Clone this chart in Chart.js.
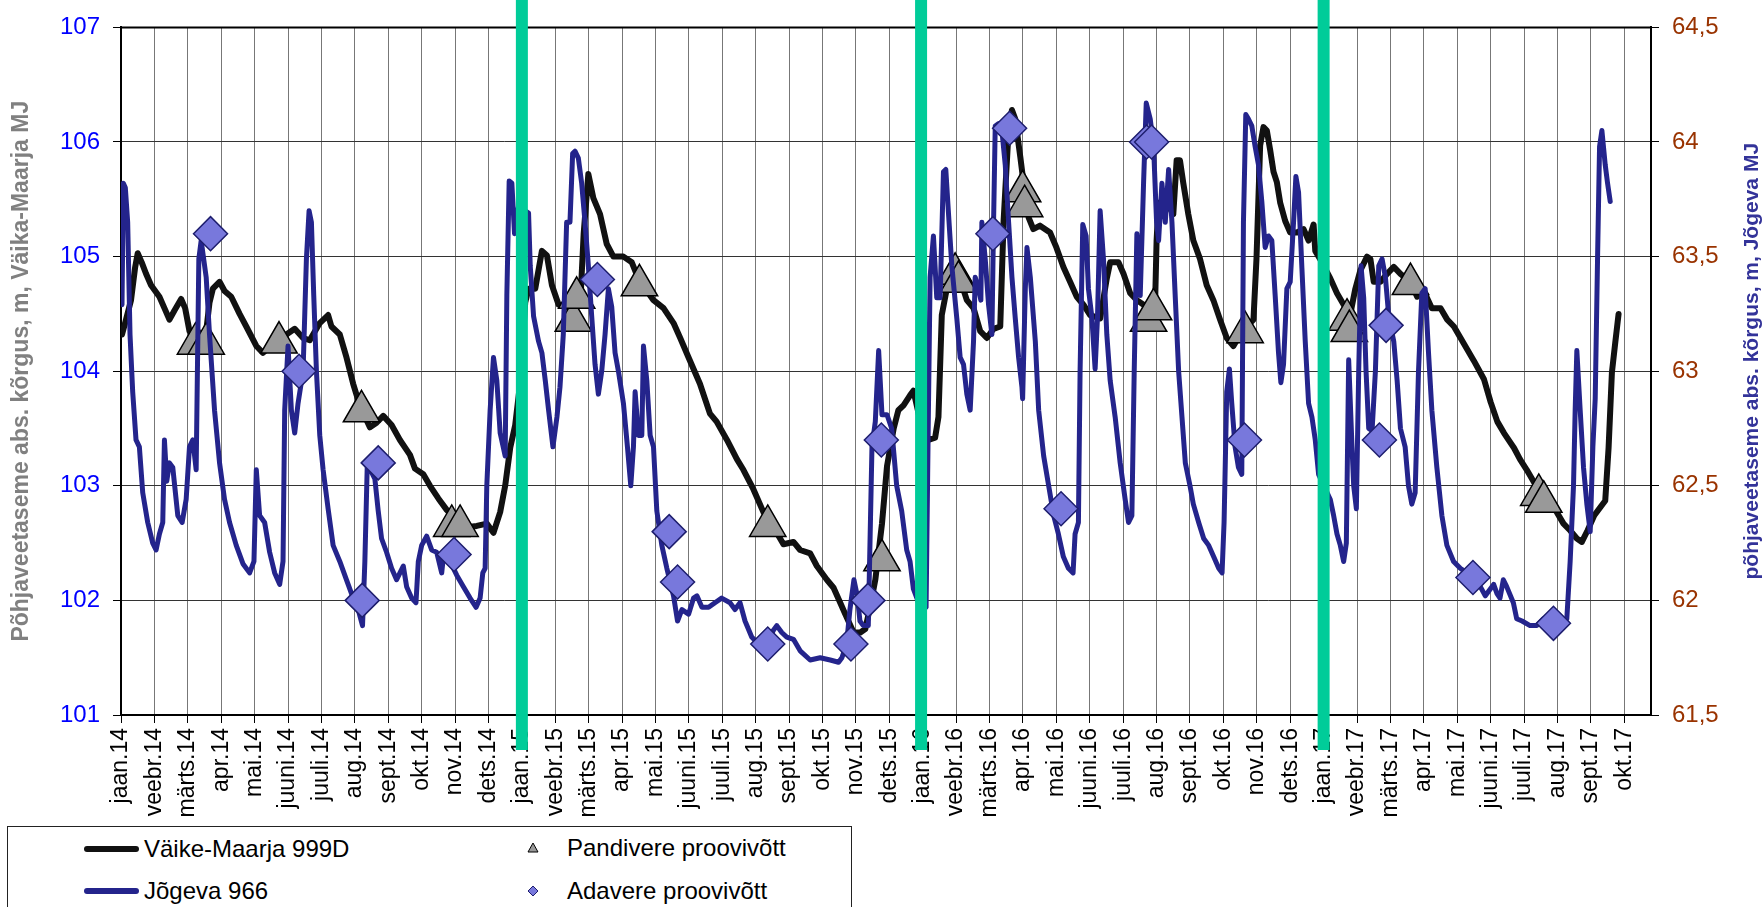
<!DOCTYPE html>
<html>
<head>
<meta charset="utf-8">
<script src="https://cdn.jsdelivr.net/npm/chart.js@4.4.1/dist/chart.umd.min.js"></script>
<style>
  body { margin: 0; background: #fff; overflow: hidden; }
  #wrap { position: relative; width: 1764px; height: 907px; }
  #legend {
    position: absolute; left: 7px; top: 826px; width: 845px; height: 120px;
    border: 1px solid #222; box-sizing: border-box; background: #fff;
    font-family: "Liberation Sans", Arial, sans-serif; font-size: 24px; color: #000;
  }
  .item { position: absolute; height: 28px; line-height: 28px; white-space: nowrap; }
  .sample { position: absolute; width: 55px; height: 6px; border-radius: 3px; }
</style>
</head>
<body>
<div id="wrap">
  <canvas id="chart" width="1764" height="907"></canvas>
  <div id="legend"></div>
</div>
<script>
// kuud x-teljel (0 = jaan.14)
const monthLabels = [
  'jaan.14','veebr.14','märts.14','apr.14','mai.14','juuni.14','juuli.14','aug.14','sept.14','okt.14','nov.14','dets.14',
  'jaan.15','veebr.15','märts.15','apr.15','mai.15','juuni.15','juuli.15','aug.15','sept.15','okt.15','nov.15','dets.15',
  'jaan.16','veebr.16','märts.16','apr.16','mai.16','juuni.16','juuli.16','aug.16','sept.16','okt.16','nov.16','dets.16',
  'jaan.17','veebr.17','märts.17','apr.17','mai.17','juuni.17','juuli.17','aug.17','sept.17','okt.17'
];
const yearMarks = [12, 23.95, 36]; // aastavahetused (rohelised jooned)

const leftTitle = 'Põhjaveetaseme abs. kõrgus, m, Väika-Maarja MJ';
const rightTitle = 'põhjaveetaseme abs. kõrgus, m, Jõgeva MJ';

// Väike-Maarja 999D, [kuu, m] vasak telg
const vaikeMaarja = [
  [0.03,104.32],[0.15,104.45],[0.3,104.62],[0.42,104.9],[0.5,105.03],[0.62,104.95],[0.75,104.85],[0.9,104.75],
  [1.15,104.65],[1.3,104.55],[1.45,104.45],[1.6,104.53],[1.8,104.63],[1.92,104.55],[2.05,104.35],[2.3,104.25],
  [2.55,104.35],[2.65,104.6],[2.75,104.72],[2.95,104.78],[3.1,104.7],[3.3,104.65],[3.55,104.5],[3.75,104.39],
  [4.05,104.22],[4.25,104.16],[4.55,104.24],[4.95,104.32],[5.2,104.37],[5.45,104.29],[5.65,104.27],[5.95,104.42],
  [6.2,104.49],[6.3,104.39],[6.55,104.32],[6.75,104.12],[6.95,103.89],[7.15,103.7],[7.45,103.51],[7.65,103.55],
  [7.85,103.61],[8.1,103.53],[8.35,103.4],[8.65,103.27],[8.8,103.15],[9.05,103.1],[9.25,103.0],[9.5,102.89],
  [9.75,102.79],[10.05,102.7],[10.4,102.64],[10.65,102.65],[10.95,102.67],[11.15,102.59],[11.35,102.77],[11.5,103.0],
  [11.65,103.33],[11.8,103.53],[11.95,103.9],[12.1,104.6],[12.2,104.72],[12.4,104.72],[12.6,105.05],[12.75,105.01],
  [12.9,104.75],[13.1,104.58],[13.45,104.55],[13.75,104.6],[13.85,105.2],[13.99,105.72],[14.14,105.51],[14.34,105.37],
  [14.54,105.11],[14.74,105.0],[15.04,105.0],[15.29,104.95],[15.5,104.8],[15.94,104.62],[16.24,104.55],[16.54,104.42],
  [16.74,104.29],[16.99,104.12],[17.33,103.89],[17.63,103.63],[17.83,103.56],[18.14,103.4],[18.44,103.23],[18.63,103.14],
  [18.93,102.97],[19.23,102.77],[19.53,102.64],[19.83,102.49],[20.13,102.51],[20.33,102.44],[20.63,102.41],[20.83,102.3],
  [21.13,102.18],[21.33,102.11],[21.53,101.98],[21.68,101.88],[21.93,101.72],[22.13,101.72],[22.28,101.75],[22.43,101.95],
  [22.58,102.18],[22.78,102.67],[22.93,103.17],[23.13,103.5],[23.27,103.66],[23.42,103.7],[23.62,103.79],[23.72,103.83],
  [23.9,103.6],[24.05,103.4],[24.17,103.4],[24.37,103.42],[24.47,103.6],[24.57,104.49],[24.72,104.72],[24.92,104.78],
  [25.12,104.8],[25.32,104.62],[25.52,104.55],[25.72,104.35],[25.92,104.29],[26.12,104.37],[26.32,104.39],[26.42,105.31],
  [26.57,106.1],[26.67,106.28],[26.77,106.2],[26.92,105.87],[27.02,105.64],[27.17,105.34],[27.31,105.24],[27.51,105.27],
  [27.81,105.21],[28.0,105.08],[28.21,104.91],[28.41,104.78],[28.61,104.65],[28.81,104.58],[29.01,104.49],[29.31,104.46],
  [29.51,104.81],[29.61,104.95],[29.86,104.95],[30.01,104.85],[30.21,104.68],[30.41,104.62],[30.61,104.58],[30.81,104.55],
  [30.96,104.65],[31.0,105.14],[31.06,105.47],[31.21,105.37],[31.31,105.47],[31.5,105.37],[31.6,105.84],[31.7,105.84],
  [31.8,105.64],[31.95,105.37],[32.1,105.14],[32.3,104.98],[32.5,104.75],[32.7,104.62],[32.9,104.45],[33.1,104.29],
  [33.3,104.22],[33.5,104.32],[33.7,104.39],[33.9,104.45],[33.99,104.98],[34.1,105.97],[34.2,106.13],[34.3,106.1],
  [34.4,105.93],[34.5,105.74],[34.6,105.65],[34.7,105.47],[34.85,105.31],[35.0,105.21],[35.2,105.21],[35.4,105.24],
  [35.55,105.14],[35.7,105.28],[35.75,105.05],[35.95,104.95],[36.2,104.81],[36.4,104.68],[36.6,104.58],[36.8,104.5],
  [36.95,104.72],[37.1,104.88],[37.3,105.0],[37.4,104.98],[37.5,104.78],[37.7,104.78],[37.9,104.85],[38.1,104.91],
  [38.3,104.85],[38.6,104.78],[38.8,104.65],[39.0,104.7],[39.24,104.55],[39.5,104.55],[39.7,104.45],[39.9,104.39],
  [40.1,104.29],[40.3,104.19],[40.5,104.09],[40.8,103.93],[41.0,103.73],[41.2,103.56],[41.4,103.46],[41.7,103.33],
  [41.88,103.23],[42.08,103.14],[42.28,103.04],[42.6,102.9],[42.98,102.77],[43.18,102.67],[43.38,102.61],[43.58,102.54],
  [43.73,102.51],[43.9,102.61],[44.1,102.74],[44.3,102.82],[44.43,102.87],[44.53,103.33],[44.63,103.99],[44.73,104.25],
  [44.83,104.5]
];

// Jõgeva 966, [kuu, m] parem telg
const jogeva = [
  [0.03,63.29],[0.07,63.82],[0.13,63.8],[0.2,63.65],[0.27,63.16],[0.35,62.91],[0.45,62.7],[0.55,62.67],
  [0.65,62.47],[0.8,62.34],[0.95,62.25],[1.05,62.22],[1.15,62.29],[1.25,62.34],[1.3,62.7],[1.37,62.52],
  [1.45,62.6],[1.55,62.58],[1.7,62.37],[1.83,62.34],[1.95,62.44],[2.05,62.67],[2.15,62.7],[2.25,62.57],
  [2.33,63.49],[2.4,63.57],[2.55,63.41],[2.65,63.16],[2.8,62.83],[2.95,62.6],[3.1,62.44],[3.25,62.34],
  [3.45,62.24],[3.65,62.16],[3.85,62.12],[3.98,62.17],[4.05,62.57],[4.15,62.37],[4.3,62.34],[4.45,62.21],
  [4.6,62.12],[4.75,62.07],[4.85,62.17],[4.9,62.83],[5.0,63.11],[5.1,62.83],[5.2,62.73],[5.3,62.86],
  [5.45,63.0],[5.55,63.49],[5.63,63.7],[5.7,63.65],[5.77,63.33],[5.85,63.0],[5.95,62.72],[6.05,62.57],
  [6.2,62.4],[6.35,62.24],[6.55,62.17],[6.75,62.09],[6.95,62.01],[7.1,61.96],[7.23,61.89],[7.3,62.17],
  [7.37,62.58],[7.5,62.56],[7.6,62.53],[7.7,62.39],[7.8,62.27],[7.95,62.21],[8.1,62.14],[8.25,62.09],
  [8.35,62.12],[8.45,62.15],[8.55,62.06],[8.7,62.01],[8.83,61.99],[8.9,62.17],[9.0,62.24],[9.15,62.28],
  [9.3,62.22],[9.45,62.21],[9.6,62.12],[9.65,62.19],[9.85,62.17],[10.05,62.11],[10.25,62.06],[10.45,62.01],
  [10.63,61.97],[10.75,62.01],[10.83,62.12],[10.9,62.14],[10.95,62.5],[11.05,62.83],[11.15,63.06],[11.25,62.96],
  [11.35,62.73],[11.5,62.63],[11.55,63.33],[11.62,63.83],[11.7,63.82],[11.78,63.6],[11.9,63.72],[12.1,63.7],
  [12.2,63.69],[12.25,63.46],[12.35,63.24],[12.5,63.13],[12.6,63.08],[12.7,62.96],[12.8,62.83],[12.93,62.67],
  [13.05,62.8],[13.14,62.93],[13.24,63.16],[13.34,63.65],[13.44,63.65],[13.52,63.95],[13.59,63.96],[13.69,63.93],
  [13.79,63.82],[13.89,63.65],[13.99,63.46],[14.09,63.24],[14.19,63.03],[14.29,62.9],[14.39,63.0],[14.49,63.16],
  [14.59,63.36],[14.69,63.28],[14.79,63.08],[14.89,63.0],[15.04,62.86],[15.16,62.67],[15.26,62.5],[15.34,62.67],
  [15.39,62.91],[15.49,62.72],[15.59,62.72],[15.64,63.11],[15.74,62.96],[15.84,62.72],[15.94,62.67],[16.04,62.39],
  [16.19,62.24],[16.34,62.14],[16.54,62.02],[16.66,61.91],[16.79,61.96],[16.99,61.94],[17.14,62.01],[17.24,62.02],
  [17.39,61.97],[17.59,61.97],[17.78,61.99],[17.98,62.01],[18.23,61.99],[18.38,61.96],[18.53,61.99],[18.68,61.91],
  [18.88,61.84],[19.08,61.81],[19.33,61.81],[19.53,61.87],[19.63,61.89],[19.78,61.86],[19.93,61.84],[20.13,61.83],
  [20.33,61.78],[20.63,61.74],[20.93,61.75],[21.23,61.74],[21.48,61.73],[21.58,61.75],[21.72,61.81],[21.82,61.96],
  [21.94,62.09],[22.04,62.02],[22.12,61.91],[22.22,61.89],[22.37,61.89],[22.48,62.67],[22.58,62.78],[22.68,63.09],
  [22.78,62.81],[22.93,62.81],[23.07,62.75],[23.22,62.5],[23.37,62.39],[23.52,62.22],[23.62,62.17],[23.72,62.05],
  [23.9,61.98],[24.1,61.97],[24.17,62.83],[24.22,63.41],[24.32,63.59],[24.42,63.32],[24.52,63.32],[24.62,63.87],
  [24.69,63.88],[24.77,63.69],[24.87,63.46],[25.02,63.23],[25.12,63.06],[25.22,63.03],[25.32,62.9],[25.42,62.83],
  [25.52,63.13],[25.57,63.41],[25.67,63.36],[25.74,63.31],[25.77,63.65],[25.87,63.49],[25.97,63.29],[26.07,63.16],
  [26.12,63.65],[26.17,64.07],[26.27,64.08],[26.37,64.05],[26.47,63.9],[26.57,63.65],[26.67,63.41],[26.77,63.23],
  [26.87,63.06],[26.97,62.93],[26.99,62.88],[27.07,63.36],[27.12,63.54],[27.22,63.41],[27.37,63.13],[27.47,62.83],
  [27.62,62.63],[27.77,62.5],[27.92,62.37],[28.06,62.29],[28.21,62.19],[28.36,62.14],[28.5,62.12],[28.56,62.29],
  [28.66,62.34],[28.71,63.0],[28.79,63.64],[28.89,63.59],[28.96,63.36],[29.06,63.24],[29.16,63.01],[29.23,63.23],
  [29.31,63.7],[29.41,63.49],[29.51,63.16],[29.61,62.96],[29.76,62.8],[29.91,62.6],[30.06,62.44],[30.16,62.34],
  [30.26,62.37],[30.33,63.0],[30.41,63.6],[30.51,63.33],[30.61,63.82],[30.69,64.17],[30.81,64.1],[30.91,63.98],
  [31.0,63.65],[31.06,63.57],[31.16,63.82],[31.26,63.65],[31.36,63.88],[31.46,63.65],[31.56,63.32],[31.66,63.0],
  [31.76,62.8],[31.86,62.6],[32.0,62.5],[32.1,62.42],[32.26,62.34],[32.41,62.27],[32.56,62.24],[32.71,62.19],
  [32.86,62.14],[32.96,62.12],[33.02,62.34],[33.1,62.91],[33.18,63.01],[33.25,62.86],[33.35,62.67],[33.45,62.58],
  [33.55,62.55],[33.6,63.65],[33.67,64.12],[33.75,64.1],[33.85,64.07],[33.95,63.98],[34.05,63.9],[34.15,63.74],
  [34.25,63.54],[34.35,63.59],[34.45,63.57],[34.55,63.33],[34.65,63.08],[34.72,62.95],[34.8,63.03],[34.9,63.36],
  [35.0,63.39],[35.1,63.65],[35.17,63.85],[35.25,63.78],[35.35,63.45],[35.45,63.13],[35.55,62.86],[35.65,62.8],
  [35.75,62.7],[35.85,62.55],[36.2,62.44],[36.3,62.37],[36.4,62.29],[36.5,62.24],[36.6,62.17],[36.68,62.25],
  [36.75,63.05],[36.85,62.67],[36.9,62.5],[36.98,62.4],[37.05,63.0],[37.12,63.46],[37.2,63.32],[37.27,63.0],
  [37.35,62.75],[37.45,62.74],[37.55,63.0],[37.65,63.46],[37.75,63.49],[37.85,63.41],[37.95,63.24],[38.1,63.13],
  [38.2,62.96],[38.3,62.75],[38.44,62.67],[38.54,62.5],[38.64,62.42],[38.74,62.47],[38.84,63.0],[38.94,63.34],
  [39.04,63.36],[39.14,63.08],[39.24,62.83],[39.39,62.58],[39.54,62.37],[39.69,62.24],[39.89,62.17],[40.09,62.14],
  [40.29,62.12],[40.49,62.1],[40.69,62.06],[40.84,62.02],[40.99,62.05],[41.09,62.07],[41.19,62.03],[41.28,62.01],
  [41.38,62.09],[41.48,62.06],[41.68,61.99],[41.78,61.92],[41.94,61.91],[42.18,61.89],[42.38,61.89],[42.58,61.92],
  [42.88,61.91],[43.18,61.89],[43.28,61.92],[43.38,62.17],[43.48,62.5],[43.53,62.83],[43.58,63.09],[43.68,62.83],
  [43.78,62.58],[43.88,62.42],[43.98,62.3],[44.06,62.67],[44.13,62.88],[44.2,63.49],[44.26,63.98],[44.33,64.05],
  [44.43,63.9],[44.5,63.82],[44.58,63.74]
];

// Pandivere proovivõtt, [kuu, m] vasak telg
const pandivere = [
  [2.23,104.24],[2.55,104.24],[4.73,104.25],[7.2,103.65],[9.9,102.65],[10.15,102.65],[13.54,104.44],[13.64,104.64],
  [15.52,104.75],[19.36,102.65],[22.78,102.35],[24.97,104.85],[25.07,104.78],[26.99,105.57],[27.05,105.44],
  [30.76,104.44],[30.91,104.54],[33.65,104.34],[36.7,104.45],[36.77,104.35],[38.6,104.76],[42.44,102.92],[42.59,102.86]
];

// Adavere proovivõtt, [kuu, m] parem telg
const adavere = [
  [2.68,63.6],[5.33,63.0],[7.22,62.0],[7.7,62.6],[9.97,62.2],[14.26,63.4],[16.41,62.3],[16.66,62.08],
  [19.36,61.81],[21.85,61.81],[22.36,62.0],[22.76,62.7],[26.1,63.6],[26.6,64.06],[28.14,62.4],[30.7,64.0],
  [30.85,64.0],[33.63,62.7],[37.67,62.7],[37.87,63.2],[40.47,62.1],[42.88,61.9]
];

const FONT = 'Liberation Sans';
const toXY = arr => arr.map(p => ({ x: p[0], y: p[1] }));

const extras = {
  id: 'extras',
  afterDraw(chart) {
    const { ctx, chartArea, scales } = chart;
    ctx.save();
    // ülemine raam
    ctx.strokeStyle = '#000';
    ctx.lineWidth = 2;
    ctx.beginPath();
    ctx.moveTo(chartArea.left, chartArea.top);
    ctx.lineTo(chartArea.right, chartArea.top);
    ctx.stroke();
    // aastavahetused
    ctx.fillStyle = '#00CC99';
    yearMarks.forEach(m => {
      const x = scales.x.getPixelForValue(m);
      ctx.fillRect(x - 6, 0, 12, chartArea.bottom + 35);
    });
    // parema telje pealkiri (loeb alt üles)
    ctx.translate(chart.width - 12, (chartArea.top + chartArea.bottom) / 2 - 10);
    ctx.rotate(-Math.PI / 2);
    ctx.font = 'bold 21px "' + FONT + '"';
    ctx.fillStyle = '#333399';
    ctx.textAlign = 'center';
    ctx.textBaseline = 'middle';
    ctx.fillText(rightTitle, 0, 0);
    ctx.restore();
  }
};

const chart = new Chart(document.getElementById('chart'), {
  type: 'line',
  data: {
    datasets: [
      {
        label: 'Väike-Maarja 999D',
        data: toXY(vaikeMaarja),
        yAxisID: 'y',
        borderColor: '#111111',
        borderWidth: 6,
        pointRadius: 0,
        borderJoinStyle: 'round',
        borderCapStyle: 'round',
        tension: 0,
        order: 4
      },
      {
        label: 'Pandivere proovivõtt',
        data: toXY(pandivere),
        yAxisID: 'y',
        showLine: false,
        pointStyle: 'triangle',
        pointRadius: 21,
        pointBackgroundColor: '#999999',
        pointBorderColor: '#000000',
        pointBorderWidth: 1.5,
        order: 3
      },
      {
        label: 'Jõgeva 966',
        data: toXY(jogeva),
        yAxisID: 'y2',
        borderColor: '#24248C',
        borderWidth: 5,
        pointRadius: 0,
        borderJoinStyle: 'round',
        borderCapStyle: 'round',
        tension: 0,
        order: 2
      },
      {
        label: 'Adavere proovivõtt',
        data: toXY(adavere),
        yAxisID: 'y2',
        showLine: false,
        pointStyle: 'rectRot',
        pointRadius: 17,
        pointBackgroundColor: '#7878DC',
        pointBorderColor: '#1E1E6E',
        pointBorderWidth: 1.5,
        order: 1
      }
    ]
  },
  options: {
    responsive: false,
    animation: false,
    devicePixelRatio: 1,
    layout: { padding: { top: 19, left: 0, right: 0, bottom: 0 } },
    plugins: { legend: { display: false }, tooltip: { enabled: false } },
    scales: {
      x: {
        type: 'linear',
        min: 0,
        max: 45.8,
        afterFit: s => { s.height = 192; },
        ticks: {
          stepSize: 1,
          autoSkip: false,
          includeBounds: false,
          minRotation: 90,
          maxRotation: 90,
          padding: 5,
          color: '#000',
          font: { family: FONT, size: 23 },
          callback: v => monthLabels[Math.round(v)] || ''
        },
        grid: { color: '#777777', lineWidth: 1, tickLength: 8, tickColor: '#000' },
        border: { color: '#000', width: 2 }
      },
      y: {
        position: 'left',
        min: 101,
        max: 107,
        afterFit: s => { s.width = 121; },
        ticks: {
          stepSize: 1,
          padding: 13,
          color: '#0000FF',
          font: { family: FONT, size: 24 }
        },
        grid: { color: '#333333', lineWidth: 1, tickLength: 8, tickColor: '#000' },
        border: { color: '#000', width: 2 },
        title: {
          display: true,
          text: leftTitle,
          color: '#808080',
          font: { family: FONT, size: 23, weight: 'bold' },
          padding: { top: 8, bottom: 0 }
        }
      },
      y2: {
        position: 'right',
        min: 61.5,
        max: 64.5,
        afterFit: s => { s.width = 113; },
        ticks: {
          stepSize: 0.5,
          padding: 13,
          color: '#993300',
          font: { family: FONT, size: 24 },
          callback: v => String(v).replace('.', ',')
        },
        grid: { drawOnChartArea: false, tickLength: 8, tickColor: '#000' },
        border: { color: '#000', width: 2 }
      }
    }
  },
  plugins: [extras]
});

// legend kahes veerus, nagu originaalis
(function buildLegend() {
  const box = document.getElementById('legend');
  const ds = chart.data.datasets;
  const lineItem = (d, top) => {
    const s = document.createElement('div');
    s.className = 'sample';
    s.style.left = '76px';
    s.style.top = (top - 3) + 'px';
    s.style.background = d.borderColor;
    box.appendChild(s);
    const t = document.createElement('div');
    t.className = 'item';
    t.style.left = '136px';
    t.style.top = (top - 14) + 'px';
    t.textContent = d.label;
    box.appendChild(t);
  };
  const markerItem = (d, top, shape) => {
    const ns = 'http://www.w3.org/2000/svg';
    const svg = document.createElementNS(ns, 'svg');
    svg.setAttribute('width', '12');
    svg.setAttribute('height', '12');
    svg.style.position = 'absolute';
    svg.style.left = '519px';
    svg.style.top = (top - 6) + 'px';
    const p = document.createElementNS(ns, 'polygon');
    p.setAttribute('points', shape === 'triangle' ? '6,1 11,10 1,10' : '6,1 11,6 6,11 1,6');
    p.setAttribute('fill', d.pointBackgroundColor);
    p.setAttribute('stroke', d.pointBorderColor);
    p.setAttribute('stroke-width', '1');
    svg.appendChild(p);
    box.appendChild(svg);
    const t = document.createElement('div');
    t.className = 'item';
    t.style.left = '559px';
    t.style.top = (top - 14) + 'px';
    t.textContent = d.label;
    box.appendChild(t);
  };
  lineItem(ds[0], 22);
  lineItem(ds[2], 64);
  markerItem(ds[1], 21, 'triangle');
  markerItem(ds[3], 64, 'diamond');
})();
</script>
</body>
</html>
